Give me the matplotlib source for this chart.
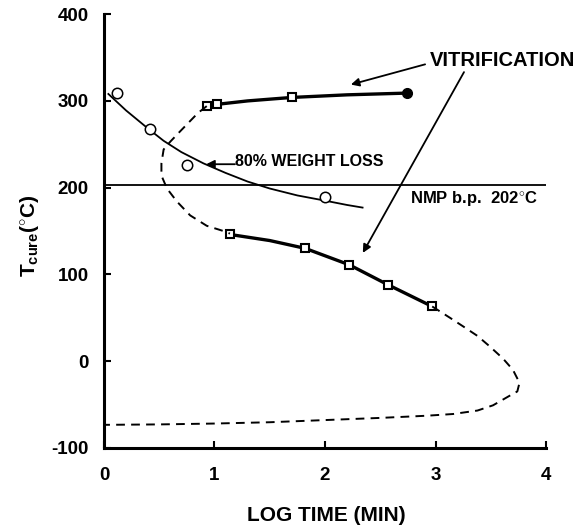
import matplotlib
matplotlib.use("Agg")
import matplotlib.pyplot as plt

plt.rcParams['font.family'] = ['Liberation Sans', 'DejaVu Sans']
plt.rcParams['font.weight'] = 'bold'
plt.rcParams['mathtext.fontset'] = 'custom'
plt.rcParams['mathtext.rm'] = 'Liberation Sans:bold'
plt.rcParams['mathtext.it'] = 'Liberation Sans:bold'
plt.rcParams['mathtext.bf'] = 'Liberation Sans:bold'

# 80% weight loss data (open circles) and fitted curve
wl_x = [0.12, 0.42, 0.75, 2.0]
wl_y = [309, 268, 226, 189]
wl_fit_x = [0.04, 0.2, 0.4, 0.54, 0.7, 0.9, 1.1, 1.3, 1.5, 1.75, 2.0, 2.2, 2.34]
wl_fit_y = [308, 289, 268, 254, 241, 228, 217, 207, 199, 191, 185, 180, 177]

# Vitrification, upper branch
vu_x = [0.93, 1.02, 1.70]
vu_y = [294, 296, 304]
vu_fit_x = [0.93, 1.02, 1.3, 1.70, 2.2, 2.74]
vu_fit_y = [294, 296, 300, 304, 307, 309]
vu_end_x = [2.74]
vu_end_y = [309]

# Vitrification, lower branch
vl_x = [1.14, 1.82, 2.22, 2.57, 2.97]
vl_y = [146, 130, 111, 88, 63]
vl_fit_x = [1.14, 1.5, 1.82, 2.22, 2.57, 2.97]
vl_fit_y = [146, 139, 130, 111, 88, 63]

# Dashed (extrapolated) vitrification curve
dash_up_x = [0.93, 0.85, 0.69, 0.60, 0.54, 0.52, 0.52, 0.57, 0.66, 0.78, 0.93, 1.08, 1.14]
dash_up_y = [294, 286, 265, 253, 244, 228, 214, 199, 184, 168, 156, 150, 147]
dash_lo_x = [2.97, 3.13, 3.25, 3.38, 3.49, 3.61, 3.70, 3.76, 3.74, 3.67, 3.52, 3.38,
             3.16, 2.92, 2.5, 2.0, 1.5, 1.0, 0.5, 0.0]
dash_lo_y = [63, 50, 40, 29, 17, 3, -10, -25, -35, -40, -51, -57,
             -61, -63, -65.5, -68, -70.5, -72, -73, -73.5]

# NMP boiling point
nmp_x = [0.0, 4.0]
nmp_y = [203, 203]

x_ticks = [0, 1, 2, 3, 4]
y_ticks = [-100, 0, 100, 200, 300, 400]

fig = plt.figure(figsize=(5.84, 5.25), dpi=100)
ax = fig.add_axes([0.178, 0.147, 0.757, 0.826])

ax.plot(nmp_x, nmp_y, color='black', lw=1.3)
ax.plot(wl_fit_x, wl_fit_y, color='black', lw=1.3)
ax.plot(wl_x, wl_y, 'o', mfc='white', mec='black', ms=7.5, mew=1.1)

ax.plot(vu_fit_x, vu_fit_y, color='black', lw=2.4)
ax.plot(vu_x, vu_y, 's', mfc='white', mec='black', ms=6, mew=1.5)
ax.plot(vu_end_x, vu_end_y, 'o', color='black', ms=7)

ax.plot(vl_fit_x, vl_fit_y, color='black', lw=2.4)
ax.plot(vl_x, vl_y, 's', mfc='white', mec='black', ms=6, mew=1.5)

l1, = ax.plot(dash_up_x, dash_up_y, color='black', lw=1.4)
l1.set_dashes([4.5, 3.2])
l2, = ax.plot(dash_lo_x, dash_lo_y, color='black', lw=1.4)
l2.set_dashes([4.5, 3.2])

ax.set_xlim(0, 4)
ax.set_ylim(-100, 400)
ax.set_xticks(x_ticks)
ax.set_yticks(y_ticks)
ax.set_xticklabels([str(v) for v in x_ticks])
ax.set_yticklabels(['-100', '0', '100', '200', '300', '400'])
for s in ['top', 'right']:
    ax.spines[s].set_visible(False)
for s in ['left', 'bottom']:
    ax.spines[s].set_linewidth(2.2)
ax.tick_params(axis='both', direction='in', length=5, width=1.5, labelsize=13.5)
ax.tick_params(axis='x', pad=14)
ax.tick_params(axis='y', pad=11)
for lab in ax.get_xticklabels() + ax.get_yticklabels():
    lab.set_fontweight('bold')

ax.text(0.502, -0.155, 'LOG TIME (MIN)', transform=ax.transAxes, fontsize=15,
        fontweight='bold', ha='center', va='center')
ax.text(-0.168, 0.49, r'T$_{\mathrm{cure}}$($^{\circ}$C)', transform=ax.transAxes,
        fontsize=15, fontweight='bold', ha='center', va='center', rotation=90)

arrow_kw = dict(arrowstyle='-|>', color='black', lw=1.3, mutation_scale=12)
ax.annotate('', xy=(2.21, 318), xytext=(2.93, 343), arrowprops=arrow_kw, annotation_clip=False)
ax.annotate('', xy=(2.33, 122), xytext=(3.27, 336), arrowprops=arrow_kw, annotation_clip=False)
ax.text(2.95, 347, 'VITRIFICATION', fontsize=14.5, fontweight='bold', ha='left', va='center', clip_on=False)

ax.annotate('', xy=(0.90, 227), xytext=(1.21, 227), arrowprops=arrow_kw)
ax.text(1.19, 230, '80% WEIGHT LOSS', fontsize=11.5, fontweight='bold', ha='left', va='center')

ax.text(2.77, 188, r'NMP b.p.  202$^{\circ}$C', fontsize=12, fontweight='bold', ha='left', va='center')

fig.savefig('out.png', dpi=100)
